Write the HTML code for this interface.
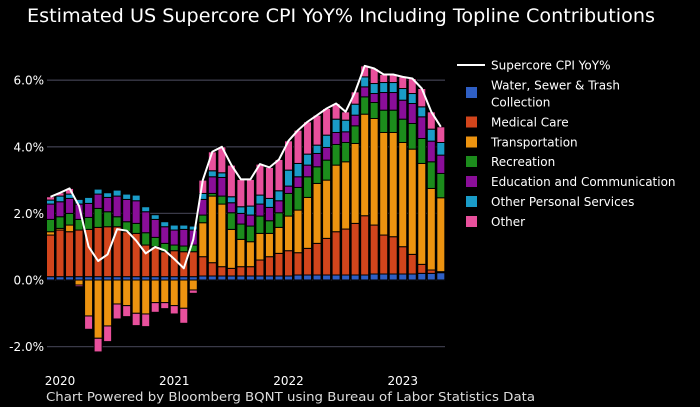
<!DOCTYPE html>
<html><head><meta charset="utf-8">
<style>
html,body{margin:0;padding:0;background:#000;}
svg{display:block;font-family:"DejaVu Sans","Liberation Sans",sans-serif;}
</style></head>
<body>
<svg id="chart" width="700" height="407" viewBox="0 0 700 407" xmlns="http://www.w3.org/2000/svg">
<rect width="700" height="407" fill="#000"/>
<text x="27" y="22" fill="#fff" font-size="19" textLength="628" lengthAdjust="spacingAndGlyphs">Estimated US Supercore CPI YoY% Including Topline Contributions</text>
<g id="grid"></g>
<g id="bars"></g>
<g id="line"></g>
<g id="xaxis"></g>
<g id="legend"></g>
<text x="46" y="401" fill="#ddd" font-size="12" textLength="489" lengthAdjust="spacingAndGlyphs">Chart Powered by Bloomberg BQNT using Bureau of Labor Statistics Data</text>
</svg>
<script>
const yTicks = [-2, 0, 2, 4, 6];
const yTickLabels = ["-2.0%", "0.0%", "2.0%", "4.0%", "6.0%"];
const xTickLabels = ["2020", "2021", "2022", "2023"];
const xTickMonthIndex = [1, 13, 25, 37];
const water = [0.1,0.1,0.1,0.1,0.1,0.1,0.1,0.1,0.1,0.1,0.1,0.1,0.1,0.1,0.1,0.1,0.12,0.12,0.12,0.12,0.12,0.12,0.12,0.12,0.12,0.12,0.15,0.15,0.15,0.15,0.15,0.15,0.15,0.15,0.18,0.18,0.18,0.18,0.18,0.2,0.2,0.22];
const medical = [1.25,1.4,1.35,1.4,1.42,1.48,1.5,1.5,1.35,1.3,0.95,0.9,0.75,0.78,0.75,0.75,0.58,0.4,0.28,0.23,0.28,0.28,0.48,0.58,0.68,0.76,0.67,0.8,0.95,1.1,1.3,1.38,1.55,1.78,1.47,1.17,1.12,0.82,0.59,0.27,0.1,0.03];
const transportation = [0.1,0.05,0.2,-0.15,-1.08,-1.75,-1.38,-0.72,-0.77,-1.0,-1.02,-0.68,-0.68,-0.77,-0.85,-0.3,1.02,2.0,1.88,1.17,0.82,0.75,0.8,0.7,0.78,1.04,1.28,1.53,1.8,1.75,2.0,2.02,2.4,3.05,3.2,3.08,3.13,3.13,3.16,3.03,2.45,2.22];
const recreation = [0.37,0.35,0.35,0.32,0.36,0.57,0.45,0.3,0.3,0.3,0.37,0.28,0.25,0.17,0.17,0.2,0.23,0.08,0.24,0.5,0.46,0.47,0.52,0.38,0.44,0.68,0.68,0.62,0.5,0.6,0.62,0.58,0.53,0.52,0.48,0.67,0.67,0.7,0.77,0.75,0.8,0.73];
const education = [0.46,0.45,0.45,0.46,0.42,0.43,0.43,0.62,0.67,0.68,0.63,0.54,0.5,0.45,0.5,0.45,0.47,0.5,0.56,0.3,0.32,0.33,0.36,0.4,0.36,0.22,0.32,0.35,0.4,0.38,0.36,0.32,0.32,0.3,0.27,0.53,0.53,0.57,0.6,0.65,0.62,0.55];
const otherPersonal = [0.12,0.17,0.13,0.14,0.18,0.15,0.14,0.18,0.16,0.17,0.15,0.14,0.15,0.15,0.13,0.12,0.18,0.18,0.14,0.18,0.2,0.27,0.27,0.27,0.3,0.48,0.4,0.33,0.25,0.37,0.4,0.35,0.33,0.3,0.3,0.3,0.3,0.35,0.3,0.3,0.36,0.38];
const other = [0.1,0.1,0.17,-0.05,-0.4,-0.41,-0.47,-0.45,-0.33,-0.37,-0.38,-0.29,-0.18,-0.25,-0.45,-0.1,0.4,0.57,0.78,0.95,0.82,0.8,0.93,0.93,0.94,0.88,1.0,0.97,0.9,0.8,0.47,0.25,0.37,0.33,0.45,0.24,0.24,0.35,0.45,0.55,0.52,0.47];

const seriesNames = ["Water, Sewer & Trash Collection","Medical Care","Transportation","Recreation","Education and Communication","Other Personal Services","Other"];
const seriesKeys = ["water","medical-care","transportation","recreation","education","other-personal","other"];
const seriesData = [water, medical, transportation, recreation, education, otherPersonal, other];
const colors = ["#2f5fc4","#d2451c","#ec9310","#1c8c1c","#8a0e99","#1a9cc8","#e8509c"];

const NS = "http://www.w3.org/2000/svg";
const x0 = 50.5, dx = 9.52, y0 = 280, pxPer = 33.3;
const xScale = i => x0 + dx * i;
const yScale = v => y0 - v * pxPer;
function mk(tag, attrs, parent) {
  const e = document.createElementNS(NS, tag);
  for (const k in attrs) e.setAttribute(k, attrs[k]);
  parent.appendChild(e);
  return e;
}
const grid = document.getElementById("grid");
yTicks.forEach((t, i) => {
  const gl = mk("line", {x1: 47, x2: 445, y1: yScale(t), y2: yScale(t), stroke: "#3a3a48", "stroke-width": 1.3}, grid);
  
  
  const tl = mk("text", {x: 44, y: yScale(t) + 4.5, fill: "#fff", "font-size": 12, "text-anchor": "end"}, grid);
  tl.textContent = yTickLabels[i];
  
  
});
const xa = document.getElementById("xaxis");
xTickLabels.forEach((l, i) => {
  const t = mk("text", {x: xScale(xTickMonthIndex[i]), y: 385, fill: "#fff", "font-size": 12, "text-anchor": "middle"}, xa);
  t.textContent = l;
  
  
});
const bars = document.getElementById("bars");
const n = water.length;
const totals = [];
for (let i = 0; i < n; i++) {
  let pos = 0, neg = 0, tot = 0;
  seriesData.forEach((arr, s) => {
    const v = arr[i];
    tot += v;
    let a, b;
    if (v >= 0) { a = pos; b = pos + v; pos = b; } else { a = neg; b = neg + v; neg = b; }
    const top = yScale(Math.max(a, b)), bot = yScale(Math.min(a, b));
    const r = mk("rect", {x: xScale(i) - 4, y: top, width: 8, height: Math.max(0, bot - top), fill: colors[s], stroke: "#000", "stroke-width": 1}, bars);
    
    
  });
  totals.push(tot);
}
const lineG = document.getElementById("line");
const pts = totals.map((v, i) => xScale(i).toFixed(1) + "," + yScale(v).toFixed(1)).join(" ");
const pl = mk("polyline", {points: pts, fill: "none", stroke: "#fff", "stroke-width": 2, "stroke-linejoin": "round"}, lineG);



const lg = document.getElementById("legend");
const ll = mk("line", {x1: 457, x2: 485, y1: 65, y2: 65, stroke: "#fff", "stroke-width": 2}, lg);


const lt = mk("text", {x: 491, y: 69.5, fill: "#fff", "font-size": 12}, lg);
lt.textContent = "Supercore CPI YoY%";


const rowsY = [92.5, 122, 142, 161.5, 181.5, 201.5, 221.5];
seriesNames.forEach((nm, s) => {
  const sw = mk("rect", {x: 466, y: rowsY[s] - 5.5, width: 11, height: 11, fill: colors[s]}, lg);
  
  
  const t = mk("text", {x: 491, y: rowsY[s] + 4.5, fill: "#fff", "font-size": 12}, lg);
  
  
  if (s === 0) {
    t.setAttribute("y", 89.5);
    const a = mk("tspan", {x: 491}, t); a.textContent = "Water, Sewer & Trash";
    const b = mk("tspan", {x: 491, dy: 17}, t); b.textContent = "Collection";
  } else {
    t.textContent = nm;
  }
});
</script>
</body></html>
